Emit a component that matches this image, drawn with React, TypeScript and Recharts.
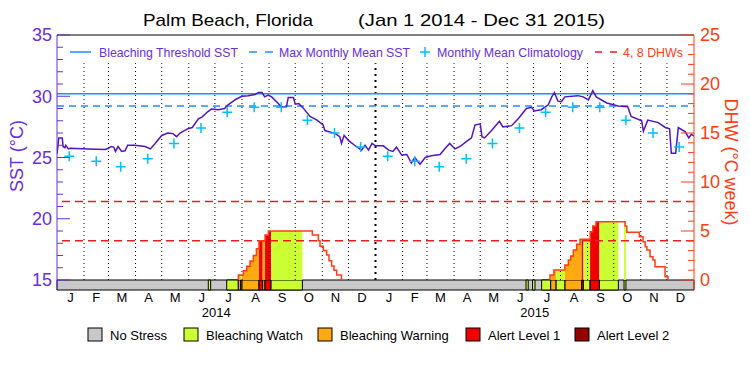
import React from "react";
import { Area, ComposedChart, Line, ReferenceArea, ReferenceLine, XAxis, YAxis } from "recharts";

// day 0 = 1 Jan 2014
const sstDays = [
  0, 1, 2, 6, 7, 9, 10, 13, 15, 36, 55, 59, 62, 65, 67, 70, 74, 78, 81, 89, 101, 107, 112, 120, 127, 133,
  137, 141, 150, 155, 162, 166, 173, 177, 185, 192, 196, 206, 212, 219, 227, 231, 235, 238, 242, 246, 253,
  257, 263, 265, 271, 273, 277, 282, 290, 298, 305, 307, 319, 324, 326, 329, 334, 341, 349, 353, 357, 361,
  365, 374, 380, 385, 389, 395, 401, 406, 410, 416, 422, 429, 439, 445, 450, 456, 462, 469, 475, 479, 485,
  487, 490, 498, 507, 511, 521, 529, 538, 544, 547, 555, 563, 567, 570, 574, 578, 582, 597, 603, 609, 614,
  618, 630, 643, 654, 658, 670, 672, 677, 689, 697, 702, 704, 709, 712, 720, 724, 727, 730,
];
const sstValues = [
  25.3, 25.9, 26.6, 26.6, 25.9, 25.8, 26.0, 25.7, 25.75, 25.7, 25.65, 25.75, 25.9, 25.85, 25.5, 25.9, 25.5,
  25.55, 26.0, 26.0, 25.9, 25.7, 26.1, 26.8, 27.0, 26.95, 26.7, 27.0, 27.35, 27.45, 28.15, 28.3, 28.75, 28.95,
  28.9, 29.0, 29.3, 29.8, 30.0, 30.05, 30.15, 30.3, 30.3, 29.95, 30.1, 29.95, 29.45, 29.15, 29.15, 29.9, 29.9,
  29.35, 29.4, 29.05, 28.35, 28.05, 27.65, 27.2, 26.95, 26.7, 26.15, 26.8, 26.4, 26.0, 25.6, 26.0, 25.6, 26.15,
  25.95, 25.95, 25.6, 25.5, 25.85, 25.2, 25.25, 24.55, 25.0, 24.45, 25.0, 25.15, 25.25, 25.75, 26.15, 25.7,
  25.9, 26.3, 26.6, 27.65, 27.75, 26.7, 26.6, 27.2, 27.95, 27.5, 27.6, 28.2, 29.0, 29.1, 28.8, 28.9, 29.3,
  29.95, 30.3, 29.6, 29.55, 29.95, 30.05, 29.95, 29.7, 30.45, 29.95, 29.45, 29.2, 29.15, 28.35, 28.0, 27.15,
  28.05, 27.85, 27.45, 27.35, 25.35, 25.35, 27.45, 27.1, 26.6, 26.9, 26.75,
];

const climatology = [25.1, 24.7, 24.25, 24.9, 26.15, 27.4, 28.7, 29.1, 29.1, 28.05, 27.0, 25.85];
const bleachingThreshold = 30.2;
const maxMonthlyMean = 29.2;
const dhwMarks = [4, 8];

const dhw2014Days = [207.8, 207.8, 213.6, 217.4, 221.2, 225, 228.5, 231.5, 238.4, 242.2, 292.6, 299.5, 301.4, 305.2, 309, 311.7, 314.7, 317.4, 320.5, 326];
const dhw2014Values = [0, 0.5, 0.95, 1.4, 1.95, 2.5, 3.2, 4.0, 4.6, 5.0, 4.6, 4.0, 3.45, 3.0, 2.55, 1.97, 1.43, 1.0, 0.5, 0];
const dhw2015Days = [565, 565, 569.5, 582, 586, 588.7, 591.7, 595.5, 599.4, 611, 614, 617.7, 651, 653, 667.4, 671.6, 674, 676, 679.6, 683, 685.3, 696.8, 700.2];
const dhw2015Values = [0, 0.5, 1.02, 1.53, 2.04, 2.45, 3.06, 3.64, 4.15, 4.93, 5.51, 5.95, 5.51, 4.87, 4.42, 3.9, 3.4, 3.06, 2.38, 2.04, 1.36, 0.34, 0];

// stress periods (anything not listed is No Stress): 1 watch, 2 warning, 3 alert 1, 4 alert 2
const stressStart = [173.4, 194.5, 207.8, 210.5, 212, 231.5, 235.7, 238.4, 245.3, 537.5, 545, 555.4, 565.8, 572, 582.2, 601.3, 603.2, 610.9, 621.6, 649.8];
const stressEnd = [176.1, 207.8, 210.5, 212, 231.5, 235.7, 238.4, 245.3, 281.2, 540, 547.8, 565.8, 572, 582.2, 601.3, 603.2, 610.9, 621.6, 643.3, 652];
const stressLevel = [1, 1, 2, 1, 2, 3, 2, 3, 1, 1, 1, 1, 2, 1, 2, 3, 1, 3, 1, 1];

const stressNames = ["No Stress", "Bleaching Watch", "Bleaching Warning", "Alert Level 1", "Alert Level 2"];
const stressColors = ["#c8c8c8", "#ccff33", "#ffaa10", "#f00000", "#960000"];
const monthLetters = ["J", "F", "M", "A", "M", "J", "J", "A", "S", "O", "N", "D"];
const years = [2014, 2015];

const FONT = "Liberation Sans, sans-serif";
const PURPLE = "#6a2ee0";
const SST_LINE = "#5214c4";
const BLUE = "#1e90ff";
const CYAN = "#00c0ff";
const ORANGE = "#ff3c14";
const RED = "#e61e1e";

const t0 = Date.UTC(2014, 0, 1);
const dayOf = (y: number, m: number, d: number) => (Date.UTC(y, m, d) - t0) / 86400000;
const END = dayOf(2016, 0, 1);
const monthStarts = years.flatMap((y) => monthLetters.map((_, m) => dayOf(y, m, 1)));
const monthMids = monthStarts.map((s, i) => (s + (monthStarts[i + 1] ?? END)) / 2);
const yearMids = years.map((y) => (dayOf(y, 0, 1) + dayOf(y + 1, 0, 1)) / 2);
const SST_MIN = 15 - 10 / 12.25; // room for the stress bar under 15
const DHW_MIN = -10 / 9.8;
const DOT_TOP = 32.7;

const sstData = sstDays.map((d, i) => ({ day: d, sst: sstValues[i] }));
const climData = years.flatMap((y) => climatology.map((v, m) => ({ day: dayOf(y, m, 15), sst: v })));

const dhwEvents: [number[], number[]][] = [
  [dhw2014Days, dhw2014Values],
  [dhw2015Days, dhw2015Values],
];
const dhwData = dhwEvents.flatMap(([ds, vs], k) => [
  ...(k ? [{ day: ds[0] - 1, dhw: null as number | null }] : []),
  ...ds.map((d, i) => ({ day: d, dhw: vs[i] as number | null })),
]);
const dhwAt = (day: number) => {
  for (const [ds, vs] of dhwEvents) {
    if (day < ds[0] || day > ds[ds.length - 1]) continue;
    let v = 0;
    ds.forEach((d, i) => {
      if (d <= day) v = vs[i];
    });
    return v;
  }
  return 0;
};
const allDhwDays = [...dhw2014Days, ...dhw2015Days];
const fills = stressStart.map((s, i) => {
  const e = stressEnd[i];
  const pts = [s, ...allDhwDays.filter((d) => d > s && d < e), e];
  return { level: stressLevel[i], data: pts.map((d) => ({ day: d, dhw: dhwAt(d) })) };
});

const SstTick = ({ x, y, payload }: any) => {
  const major = payload.value % 5 === 0;
  return (
    <g>
      <line x1={x} x2={x + (major ? 13 : 6)} y1={y} y2={y} stroke={PURPLE} />
      {major && (
        <text x={x - 5} y={y} dy="0.36em" textAnchor="end" fill={PURPLE} fontSize={18} fontFamily={FONT}>
          {payload.value}
        </text>
      )}
    </g>
  );
};

const DhwTick = ({ x, y, payload }: any) => {
  const major = payload.value % 5 === 0;
  return (
    <g>
      <line x1={x} x2={x - (major ? 13 : 6)} y1={y} y2={y} stroke={ORANGE} />
      {major && (
        <text x={x + 6} y={y} dy="0.36em" textAnchor="start" fill={ORANGE} fontSize={18} fontFamily={FONT}>
          {payload.value}
        </text>
      )}
    </g>
  );
};

const MonthTick = ({ x, y, index }: any) => (
  <text x={x} y={y + 12} textAnchor="middle" fontSize={13} fontFamily={FONT} fill="#000">
    {monthLetters[index % 12]}
  </text>
);

const PlusMark = (props: any) => {
  const { cx, cy, index } = props;
  if (cx == null || cy == null) return <g key={`c${index}`} />;
  return (
    <path
      key={`c${index}`}
      d={`M${cx - 5},${cy}H${cx + 5}M${cx},${cy - 5}V${cy + 5}`}
      stroke={CYAN}
      strokeWidth={1.5}
      fill="none"
    />
  );
};

const sstTicks = Array.from({ length: 21 }, (_, i) => 15 + i);
const dhwTicks = Array.from({ length: 26 }, (_, i) => i);

function App() {
  return (
    <div style={{ position: "absolute", left: 0, top: 0, width: 750, height: 375, background: "#fff" }}>
      <ComposedChart width={750} height={375} margin={{ top: 35, right: 55, bottom: 84, left: 56 }}>
        <XAxis
          dataKey="day"
          type="number"
          domain={[0, END]}
          ticks={monthMids}
          tick={<MonthTick />}
          tickSize={0}
          tickMargin={0}
          axisLine={false}
          tickLine={false}
          height={1}
          interval={0}
          allowDataOverflow
        />
        <YAxis
          yAxisId="sst"
          type="number"
          domain={[SST_MIN, 35]}
          ticks={sstTicks}
          tick={<SstTick />}
          tickSize={0}
          tickMargin={0}
          tickLine={false}
          axisLine={{ stroke: PURPLE }}
          width={1}
          interval={0}
          allowDataOverflow
        />
        <YAxis
          yAxisId="dhw"
          orientation="right"
          type="number"
          domain={[DHW_MIN, 25]}
          ticks={dhwTicks}
          tick={<DhwTick />}
          tickSize={0}
          tickMargin={0}
          tickLine={false}
          axisLine={{ stroke: ORANGE }}
          width={1}
          interval={0}
          allowDataOverflow
        />

        <ReferenceArea yAxisId="sst" x1={0} x2={END} y1={SST_MIN} y2={15} fill={stressColors[0]} fillOpacity={1} stroke="#000" />
        {stressStart.map((s, i) => (
          <ReferenceArea
            key={`s${i}`}
            yAxisId="sst"
            x1={s}
            x2={stressEnd[i]}
            y1={SST_MIN}
            y2={15}
            fill={stressColors[stressLevel[i]]}
            fillOpacity={1}
            stroke="#000"
          />
        ))}

        {fills.map((f, i) => (
          <Area
            key={`f${i}`}
            yAxisId="dhw"
            data={f.data}
            dataKey="dhw"
            type="stepAfter"
            baseValue={0}
            fill={stressColors[f.level]}
            fillOpacity={1}
            stroke="none"
            isAnimationActive={false}
          />
        ))}

        {monthStarts.slice(1).map((d) => (
          <ReferenceLine
            key={`m${d}`}
            yAxisId="sst"
            segment={[
              { x: d, y: 15 },
              { x: d, y: DOT_TOP },
            ]}
            stroke="#000"
            strokeWidth={d === 365 ? 2 : 1}
            strokeDasharray={d === 365 ? "2 4" : "1 3"}
          />
        ))}

        {yearMids.map((d, i) => (
          <ReferenceLine
            key={`y${d}`}
            yAxisId="sst"
            x={d}
            stroke="none"
            label={{ value: String(years[i]), position: "bottom", offset: 18, fontSize: 13, fontFamily: FONT, fill: "#000" }}
          />
        ))}

        <ReferenceLine yAxisId="sst" y={35} stroke="#000" />
        <ReferenceLine yAxisId="sst" y={bleachingThreshold} stroke={BLUE} strokeWidth={1.5} />
        <ReferenceLine yAxisId="sst" y={maxMonthlyMean} stroke={BLUE} strokeWidth={1.5} strokeDasharray="7 5" />
        {dhwMarks.map((v) => (
          <ReferenceLine key={`d${v}`} yAxisId="dhw" y={v} stroke={RED} strokeWidth={1.5} strokeDasharray="8 5" />
        ))}

        <Line
          yAxisId="dhw"
          data={dhwData}
          dataKey="dhw"
          type="stepAfter"
          stroke={ORANGE}
          strokeWidth={1.5}
          dot={false}
          connectNulls={false}
          isAnimationActive={false}
        />
        <Line
          yAxisId="sst"
          data={sstData}
          dataKey="sst"
          type="linear"
          stroke={SST_LINE}
          strokeWidth={1.5}
          dot={false}
          isAnimationActive={false}
        />
        <Line
          yAxisId="sst"
          data={climData}
          dataKey="sst"
          stroke="none"
          dot={PlusMark}
          activeDot={false}
          isAnimationActive={false}
        />
      </ComposedChart>

      <svg width={750} height={375} style={{ position: "absolute", left: 0, top: 0, pointerEvents: "none" }} fontFamily={FONT}>
        <text x={143} y={20} dy="0.36em" fontSize={17} textLength={170} lengthAdjust="spacingAndGlyphs">
          Palm Beach, Florida
        </text>
        <text x={358} y={20} dy="0.36em" fontSize={17} textLength={247} lengthAdjust="spacingAndGlyphs">
          (Jan 1 2014 - Dec 31 2015)
        </text>

        <line x1={70} x2={91} y1={52} y2={52} stroke={BLUE} strokeWidth={1.5} />
        <text x={99} y={52} dy="0.36em" fontSize={13} fill={PURPLE} textLength={139} lengthAdjust="spacingAndGlyphs">
          Bleaching Threshold SST
        </text>
        <line x1={249} x2={273} y1={52} y2={52} stroke={BLUE} strokeWidth={1.5} strokeDasharray="8 8" />
        <text x={279} y={52} dy="0.36em" fontSize={13} fill={PURPLE} textLength={131} lengthAdjust="spacingAndGlyphs">
          Max Monthly Mean SST
        </text>
        <path d="M420,52H430M425,47V57" stroke={CYAN} strokeWidth={1.5} />
        <text x={437} y={52} dy="0.36em" fontSize={13} fill={PURPLE} textLength={146} lengthAdjust="spacingAndGlyphs">
          Monthly Mean Climatology
        </text>
        <line x1={595} x2={617} y1={52} y2={52} stroke={RED} strokeWidth={1.5} strokeDasharray="7 8" />
        <text x={623} y={52} dy="0.36em" fontSize={13} fill={ORANGE} textLength={60} lengthAdjust="spacingAndGlyphs">
          4, 8 DHWs
        </text>

        <text transform="translate(17,156) rotate(-90)" textAnchor="middle" dy="0.36em" fontSize={18} fill={PURPLE}>
          SST (°C)
        </text>
        <text transform="translate(731,162) rotate(90)" textAnchor="middle" dy="0.36em" fontSize={18} fill={ORANGE}>
          DHW (°C week)
        </text>

        {stressNames.map((name, i) => {
          const bx = [88, 184, 318, 466, 575][i];
          return (
            <g key={name}>
              <rect x={bx} y={328} width={14} height={13} fill={stressColors[i]} stroke="#000" />
              <text x={bx + 22} y={335} dy="0.36em" fontSize={13} fill="#000">
                {name}
              </text>
            </g>
          );
        })}
      </svg>
    </div>
  );
}

export default App;
